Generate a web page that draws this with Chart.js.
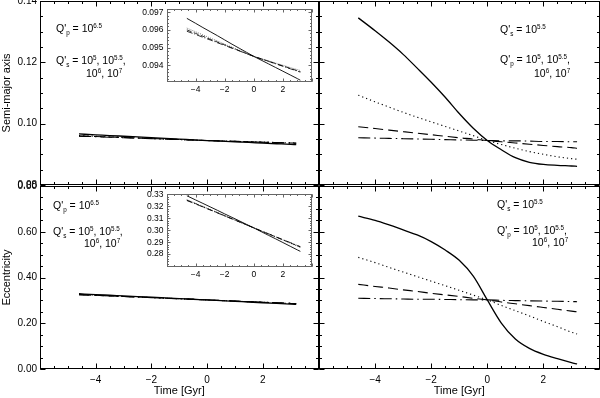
<!DOCTYPE html>
<html>
<head>
<meta charset="utf-8">
<script src="https://cdn.jsdelivr.net/npm/chart.js@4.4.0/dist/chart.umd.min.js"></script>
<style>
  body { margin: 0; background: #fff; }
  #fig { position: relative; width: 600px; height: 398px; }
  #fig canvas { position: absolute; left: 0; top: 0; }
</style>
</head>
<body>
<div id="fig"></div>
<script>
// time before/after present, Gyr
const time = [-4.6, -4, -3.5, -3, -2.5, -2, -1.5, -1, -0.5, 0, 0.5, 1, 1.5, 2, 2.5, 3, 3.2];

// semi-major axis, Q'p = 10^6.5 and Q's varied (left column)
const aQs5  = [0.09665, 0.09637, 0.09613, 0.09590, 0.09567, 0.09543, 0.09519, 0.09496, 0.09473, 0.09450, 0.09429, 0.09408, 0.09387, 0.09366, 0.09345, 0.09324, 0.09315];
const aQs55 = [0.09610, 0.09589, 0.09572, 0.09554, 0.09537, 0.09519, 0.09502, 0.09485, 0.09467, 0.09450, 0.09437, 0.09425, 0.09412, 0.09400, 0.09387, 0.09375, 0.09370];
const aQs6  = [0.09600, 0.09580, 0.09564, 0.09547, 0.09531, 0.09515, 0.09498, 0.09482, 0.09466, 0.09450, 0.09436, 0.09423, 0.09409, 0.09396, 0.09382, 0.09369, 0.09364];
const aQs7  = [0.09592, 0.09574, 0.09558, 0.09543, 0.09527, 0.09512, 0.09496, 0.09481, 0.09465, 0.09450, 0.09436, 0.09422, 0.09408, 0.09394, 0.09380, 0.09366, 0.09361];

// semi-major axis, Q's = 10^5.5 and Q'p varied (right column)
const aQp5  = [0.1345, 0.1303, 0.1266, 0.1226, 0.1181, 0.1135, 0.1086, 0.1033, 0.0985, 0.0945, 0.0915, 0.0889, 0.0874, 0.0867, 0.0864, 0.0862, 0.0861];
const aQp55 = [0.1093, 0.1071, 0.1054, 0.1037, 0.1021, 0.1006, 0.0991, 0.0976, 0.0961, 0.0945, 0.0932, 0.0920, 0.0909, 0.0900, 0.0892, 0.0886, 0.0884];
const aQp6  = [0.0990, 0.0984, 0.0979, 0.0974, 0.0969, 0.0964, 0.0959, 0.0954, 0.0950, 0.0945, 0.0941, 0.0937, 0.0933, 0.0929, 0.0925, 0.0922, 0.0920];
const aQp7  = [0.0954, 0.0953, 0.0952, 0.0951, 0.0950, 0.0949, 0.0948, 0.0947, 0.0946, 0.0945, 0.0944, 0.0944, 0.0943, 0.0942, 0.0942, 0.0941, 0.0941];

// eccentricity, left column
const eQs5  = [0.3289, 0.3254, 0.3225, 0.3196, 0.3167, 0.3137, 0.3108, 0.3079, 0.3049, 0.3020, 0.2989, 0.2958, 0.2928, 0.2897, 0.2866, 0.2835, 0.2823];
const eQs55 = [0.3256, 0.3226, 0.3200, 0.3174, 0.3149, 0.3123, 0.3097, 0.3072, 0.3046, 0.3020, 0.2994, 0.2969, 0.2943, 0.2918, 0.2892, 0.2866, 0.2856];
const eQs6  = [0.3252, 0.3223, 0.3197, 0.3172, 0.3147, 0.3121, 0.3096, 0.3071, 0.3045, 0.3020, 0.2995, 0.2970, 0.2945, 0.2920, 0.2895, 0.2870, 0.2860];
const eQs7  = [0.3249, 0.3220, 0.3195, 0.3170, 0.3145, 0.3120, 0.3095, 0.3070, 0.3045, 0.3020, 0.2995, 0.2971, 0.2946, 0.2921, 0.2897, 0.2872, 0.2862];

// eccentricity, right column
const eQp5  = [0.668, 0.650, 0.630, 0.608, 0.586, 0.557, 0.520, 0.475, 0.406, 0.302, 0.201, 0.131, 0.090, 0.064, 0.045, 0.028, 0.022];
const eQp55 = [0.488, 0.465, 0.444, 0.424, 0.404, 0.384, 0.364, 0.344, 0.323, 0.302, 0.278, 0.255, 0.232, 0.208, 0.185, 0.161, 0.153];
const eQp6  = [0.370, 0.361, 0.354, 0.346, 0.339, 0.331, 0.324, 0.317, 0.309, 0.302, 0.293, 0.285, 0.277, 0.269, 0.261, 0.253, 0.250];
const eQp7  = [0.309, 0.308, 0.307, 0.306, 0.305, 0.305, 0.304, 0.303, 0.302, 0.302, 0.300, 0.299, 0.298, 0.297, 0.296, 0.295, 0.294];

// tick labels
const timeTicks = [-4, -2, 0, 2];
const aTicks = [0.08, 0.10, 0.12, 0.14];
const eTicks = [0.00, 0.20, 0.40, 0.60, 0.80];
const aInsetTicks = [0.094, 0.095, 0.096, 0.097];
const eInsetTicks = [0.28, 0.29, 0.30, 0.31, 0.32, 0.33];

const FONT = '"Liberation Sans", Arial, sans-serif';
const fig = document.getElementById('fig');

// ticks pointing inward on all four sides, like IDL plots
const frame = {
  id: 'frame',
  beforeDatasetsDraw(chart, args, o) {
    if (!o.fill) return;
    const a = chart.chartArea;
    chart.ctx.fillStyle = '#fff';
    chart.ctx.fillRect(a.left, a.top, a.width, a.height);
  },
  afterDraw(chart, args, o) {
    const { ctx, chartArea: a, scales: { x, y } } = chart;
    const L = Math.round(a.left) + 0.5, R = Math.round(a.right) - 0.5;
    const T = Math.round(a.top) + 0.5, B = Math.round(a.bottom) - 0.5;
    ctx.save();
    ctx.strokeStyle = o.color;
    ctx.lineWidth = 1;
    ctx.beginPath();
    const mark = (scale, step, len) => {
      const n0 = Math.ceil(scale.min / step - 1e-6), n1 = Math.floor(scale.max / step + 1e-6);
      for (let i = n0; i <= n1; i++) {
        const p = Math.round(scale.getPixelForValue(i * step)) + 0.5;
        if (scale.isHorizontal()) {
          ctx.moveTo(p, B); ctx.lineTo(p, B - len);
          ctx.moveTo(p, T); ctx.lineTo(p, T + len);
        } else {
          ctx.moveTo(L, p); ctx.lineTo(L + len, p);
          ctx.moveTo(R, p); ctx.lineTo(R - len, p);
        }
      }
    };
    mark(x, o.xMajor, o.major); mark(x, o.xMinor, o.minor);
    mark(y, o.yMajor, o.major); mark(y, o.yMinor, o.minor);
    ctx.stroke();
    ctx.strokeRect(L, T, R - L, B - T);
    ctx.restore();
  }
};

// Q' annotations with sub/superscripts
const notes = {
  id: 'notes',
  afterDraw(chart, args, o) {
    if (!o.lines) return;
    const ctx = chart.ctx;
    ctx.save();
    ctx.fillStyle = '#000';
    ctx.textBaseline = 'alphabetic';
    for (const ln of o.lines) {
      let x = ln.x;
      for (const [txt, kind] of ln.parts) {
        const s = kind === 'n' ? o.size : o.size * 0.6;
        const dy = kind === 'sup' ? -o.size * 0.42 : kind === 'sub' ? o.size * 0.28 : 0;
        ctx.font = s + 'px ' + FONT;
        ctx.fillText(txt, x, ln.y + dy);
        x += ctx.measureText(txt).width;
      }
    }
    ctx.restore();
  }
};

const styles = [[], [1.2, 3], [10, 5], [12, 4, 1.5, 4]];
const minus = v => (v < 0 ? '\u2212' + (-v) : String(v));

function panel(cfg) {
  const cv = document.createElement('canvas');
  cv.width = 600; cv.height = 398;
  fig.appendChild(cv);
  const [l, t, r, b] = cfg.area;
  const k = cfg.inset ? 0.5 : 1;
  const fs = cfg.inset ? 8.5 : 10;
  return new Chart(cv, {
    type: 'line',
    data: {
      datasets: cfg.series.map((ys, i) => ({
        data: time.map((tv, j) => ({ x: tv, y: ys[j] })),
        borderColor: '#000',
        borderWidth: i === 0 ? (cfg.inset ? 0.9 : 1.3) : (cfg.inset ? 0.8 : 1.1),
        borderDash: styles[i].map(d => d * k),
        pointRadius: 0,
        cubicInterpolationMode: 'monotone',
        fill: false
      }))
    },
    options: {
      responsive: false,
      animation: false,
      devicePixelRatio: 1,
      layout: { padding: { left: l - cfg.yw, top: t, right: 600 - r, bottom: 398 - b - cfg.xh } },
      scales: {
        x: {
          type: 'linear', min: -6, max: 4,
          grid: { display: false, drawTicks: false },
          border: { display: false },
          afterBuildTicks: s => { s.ticks = cfg.xLabels ? timeTicks.map(v => ({ value: v })) : []; },
          afterFit: s => { s.height = cfg.xh; s.paddingLeft = s.paddingRight = 0; },
          ticks: { display: !!cfg.xLabels, color: '#000', font: { family: FONT, size: fs }, padding: cfg.inset ? 3 : 5, maxRotation: 0, autoSkip: false, callback: minus },
          title: { display: !!cfg.xTitle, text: 'Time [Gyr]', color: '#000', font: { family: FONT, size: 11 }, padding: 0 }
        },
        y: {
          type: 'linear', min: cfg.yMin, max: cfg.yMax,
          grid: { display: false, drawTicks: false },
          border: { display: false },
          afterBuildTicks: s => { s.ticks = cfg.yLabels ? cfg.yLabels.map(v => ({ value: v })) : []; },
          afterFit: s => { s.width = cfg.yw; s.paddingTop = s.paddingBottom = 0; },
          ticks: { display: !!cfg.yLabels, color: '#000', font: { family: FONT, size: fs }, padding: 3, autoSkip: false, callback: v => v.toFixed(cfg.yDigits) },
          title: { display: !!cfg.yTitle, text: cfg.yTitle || '', color: '#000', font: { family: FONT, size: 11 }, padding: 0 }
        }
      },
      plugins: {
        legend: { display: false },
        tooltip: { enabled: false },
        frame: Object.assign({ color: cfg.inset ? '#666' : '#000', fill: !!cfg.inset,
          major: cfg.inset ? 3 : 5, minor: cfg.inset ? 1.5 : 2.5, xMajor: 2, xMinor: 0.5 }, cfg.ticksY),
        notes: { size: 10.5, lines: cfg.notes }
      }
    },
    plugins: [frame, notes]
  });
}

const tail = [['10', 'n'], ['6', 'sup'], [', ', 'n'], ['10', 'n'], ['7', 'sup']];

// top left
panel({
  area: [40, 1, 318.5, 185], yw: 40, xh: 0,
  yMin: 0.08, yMax: 0.14, yLabels: aTicks, yDigits: 2, yTitle: 'Semi-major axis',
  ticksY: { yMajor: 0.02, yMinor: 0.005 },
  series: [aQs5, aQs55, aQs6, aQs7],
  notes: [
    { x: 56, y: 32, parts: [["Q'", 'n'], ['p', 'sub'], [' = 10', 'n'], ['6.5', 'sup']] },
    { x: 56, y: 64, parts: [["Q'", 'n'], ['s', 'sub'], [' = 10', 'n'], ['5', 'sup'], [', 10', 'n'], ['5.5', 'sup'], [',', 'n']] },
    { x: 86, y: 77, parts: tail }
  ]
});
// bottom left
panel({
  area: [40, 186, 318.5, 369], yw: 40, xh: 29,
  yMin: 0, yMax: 0.8, yLabels: eTicks, yDigits: 2, yTitle: 'Eccentricity',
  xLabels: true, xTitle: true,
  ticksY: { yMajor: 0.2, yMinor: 0.05 },
  series: [eQs5, eQs55, eQs6, eQs7],
  notes: [
    { x: 53, y: 209, parts: [["Q'", 'n'], ['p', 'sub'], [' = 10', 'n'], ['6.5', 'sup']] },
    { x: 53, y: 235, parts: [["Q'", 'n'], ['s', 'sub'], [' = 10', 'n'], ['5', 'sup'], [', 10', 'n'], ['5.5', 'sup'], [',', 'n']] },
    { x: 84, y: 247, parts: tail }
  ]
});
// top right
panel({
  area: [319, 1, 599.5, 185], yw: 0, xh: 0,
  yMin: 0.08, yMax: 0.14,
  ticksY: { yMajor: 0.02, yMinor: 0.005 },
  series: [aQp5, aQp55, aQp6, aQp7],
  notes: [
    { x: 500, y: 33, parts: [["Q'", 'n'], ['s', 'sub'], [' = 10', 'n'], ['5.5', 'sup']] },
    { x: 500, y: 63, parts: [["Q'", 'n'], ['p', 'sub'], [' = 10', 'n'], ['5', 'sup'], [', 10', 'n'], ['5.5', 'sup'], [',', 'n']] },
    { x: 534, y: 77, parts: tail }
  ]
});
// bottom right
panel({
  area: [319, 186, 599.5, 369], yw: 0, xh: 29,
  yMin: 0, yMax: 0.8,
  xLabels: true, xTitle: true,
  ticksY: { yMajor: 0.2, yMinor: 0.05 },
  series: [eQp5, eQp55, eQp6, eQp7],
  notes: [
    { x: 497, y: 208, parts: [["Q'", 'n'], ['s', 'sub'], [' = 10', 'n'], ['5.5', 'sup']] },
    { x: 497, y: 234, parts: [["Q'", 'n'], ['p', 'sub'], [' = 10', 'n'], ['5', 'sup'], [', 10', 'n'], ['5.5', 'sup'], [',', 'n']] },
    { x: 532, y: 246, parts: tail }
  ]
});
// insets (zoom on left column)
panel({
  inset: true, area: [166.5, 9, 312, 82], yw: 30, xh: 14,
  yMin: 0.09305, yMax: 0.09718, yLabels: aInsetTicks, yDigits: 3, xLabels: true,
  ticksY: { yMajor: 0.001, yMinor: 0.0002 },
  series: [aQs5, aQs55, aQs6, aQs7]
});
panel({
  inset: true, area: [166.5, 193.5, 312, 267], yw: 30, xh: 14,
  yMin: 0.2692, yMax: 0.3308, yLabels: eInsetTicks, yDigits: 2, xLabels: true,
  ticksY: { yMajor: 0.01, yMinor: 0.002 },
  series: [eQs5, eQs55, eQs6, eQs7]
});
</script>
</body>
</html>
